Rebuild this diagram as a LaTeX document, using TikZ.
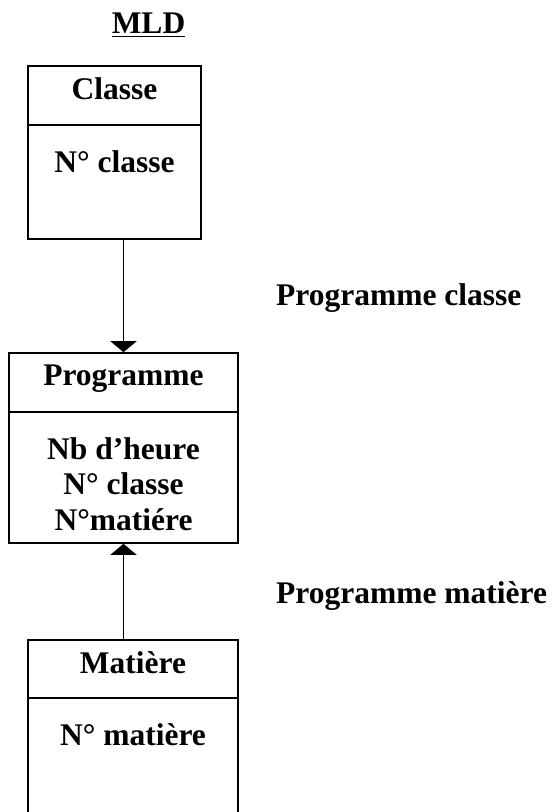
\documentclass[tikz,border=0pt]{standalone}
\usepackage{fontspec}
\setmainfont{Liberation Serif}
\usetikzlibrary{arrows.meta}

\begin{document}
\begin{tikzpicture}[x=1pt,y=-1pt,
  every node/.style={inner sep=0pt, font=\fontsize{31.5}{35.5}\selectfont\bfseries},
  label/.style={anchor=base},
  frame/.style={line width=1.6pt},
  link/.style={line width=1.5pt, -{Triangle[width=26pt,length=11pt]}}
]
\useasboundingbox (0,0) rectangle (553,812);

% heading
\node[label] (mld) at (148.5,33) {MLD};
\draw[line width=1.6pt] ([yshift=-3.5pt]mld.base west) -- ([yshift=-3.5pt]mld.base east);

% entity Classe
\node[draw, frame, minimum width=173pt, minimum height=173pt] (classe) at (114.5,152.5) {};
\draw[frame] (28,125) -- (201,125);
\node[label] (classeT) at (114.5,99) {Classe};
\node[label] (classeA) at (114.5,172) {N° classe};

% entity Programme
\node[draw, frame, minimum width=229pt, minimum height=190pt] (prog) at (123.5,448) {};
\draw[frame] (9,412) -- (238,412);
\node[label] (progT) at (123.5,385) {Programme};
\node[label] (progA) at (123.5,459) {Nb d’heure};
\node[label] (progB) at (123.5,494) {N° classe};
\node[label] (progC) at (123.5,530) {N°matiére};

% entity Matière (runs past the lower edge)
\coordinate (mat) at (133,640);
\draw[frame] (28,815) -- (28,640) -- (238,640) -- (238,815);
\draw[frame] (28,698) -- (238,698);
\node[label] (matT) at (133,673) {Matière};
\node[label] (matA) at (133,745) {N° matière};

% links
\draw[link] (classe.south -| prog.north) -- (prog.north);
\draw[link] (mat -| prog.south) -- (prog.south);

% link names
\node[label, anchor=base west] (lien1) at (276,305) {Programme classe};
\node[label, anchor=base west] (lien2) at (276,603) {Programme matière};
\end{tikzpicture}
\end{document}
